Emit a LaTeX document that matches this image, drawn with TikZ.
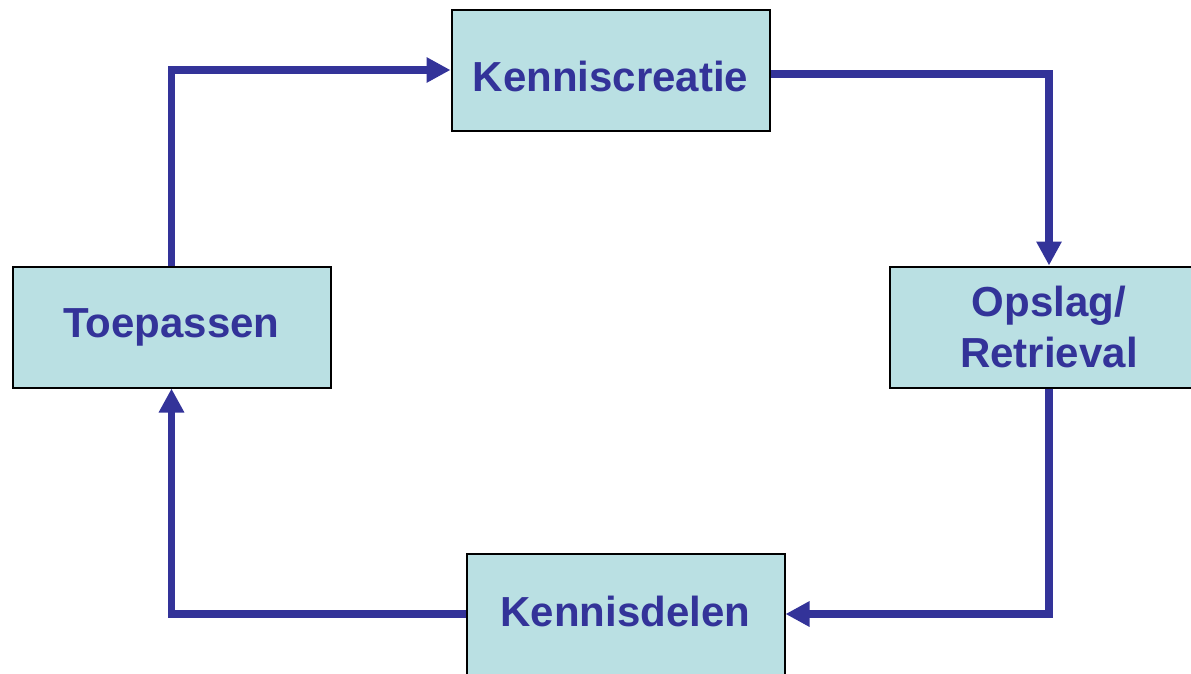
\documentclass[tikz,border=0pt]{standalone}
\usepackage{fontspec}
\setmainfont{Liberation Sans}
\usetikzlibrary{arrows.meta,calc}
\definecolor{boxfill}{HTML}{BAE0E3}
\definecolor{ink}{HTML}{333399}
\tikzset{
  stagebox/.style={draw=black, line width=2pt, fill=boxfill, rectangle,
    minimum width=318pt, minimum height=121pt, inner sep=0pt,
    font=\fontsize{42}{51}\selectfont\bfseries, text=ink, align=center},
  flow/.style={draw=ink, line width=7.5pt, -{Triangle[length=24pt,width=24pt]}}
}
\begin{document}
\begin{tikzpicture}[x=1pt,y=-1pt]
\useasboundingbox (0,0) rectangle (1191,673);
\begin{scope}
\clip (0,0) rectangle (1191,673);
\node[stagebox, text height=43.4pt, text depth=0pt] (kc) at (610.5,70) {Kenniscreatie};
\node[stagebox] (tp) at (171.5,327) {Toepassen};
\node[stagebox] (os) at (1049,327) {Opslag/\\Retrieval};
\node[stagebox, text height=30pt, text depth=6pt] (kd) at (625.5,614) {Kennisdelen};
\draw[flow] (tp.north) |- (kc.west);
\draw[flow] ($(kc.east)+(0,4)$) -| (os.north);
\draw[flow] (os.south) |- (kd.east);
\draw[flow] (kd.west) -| (tp.south);
\end{scope}
\end{tikzpicture}
\end{document}
